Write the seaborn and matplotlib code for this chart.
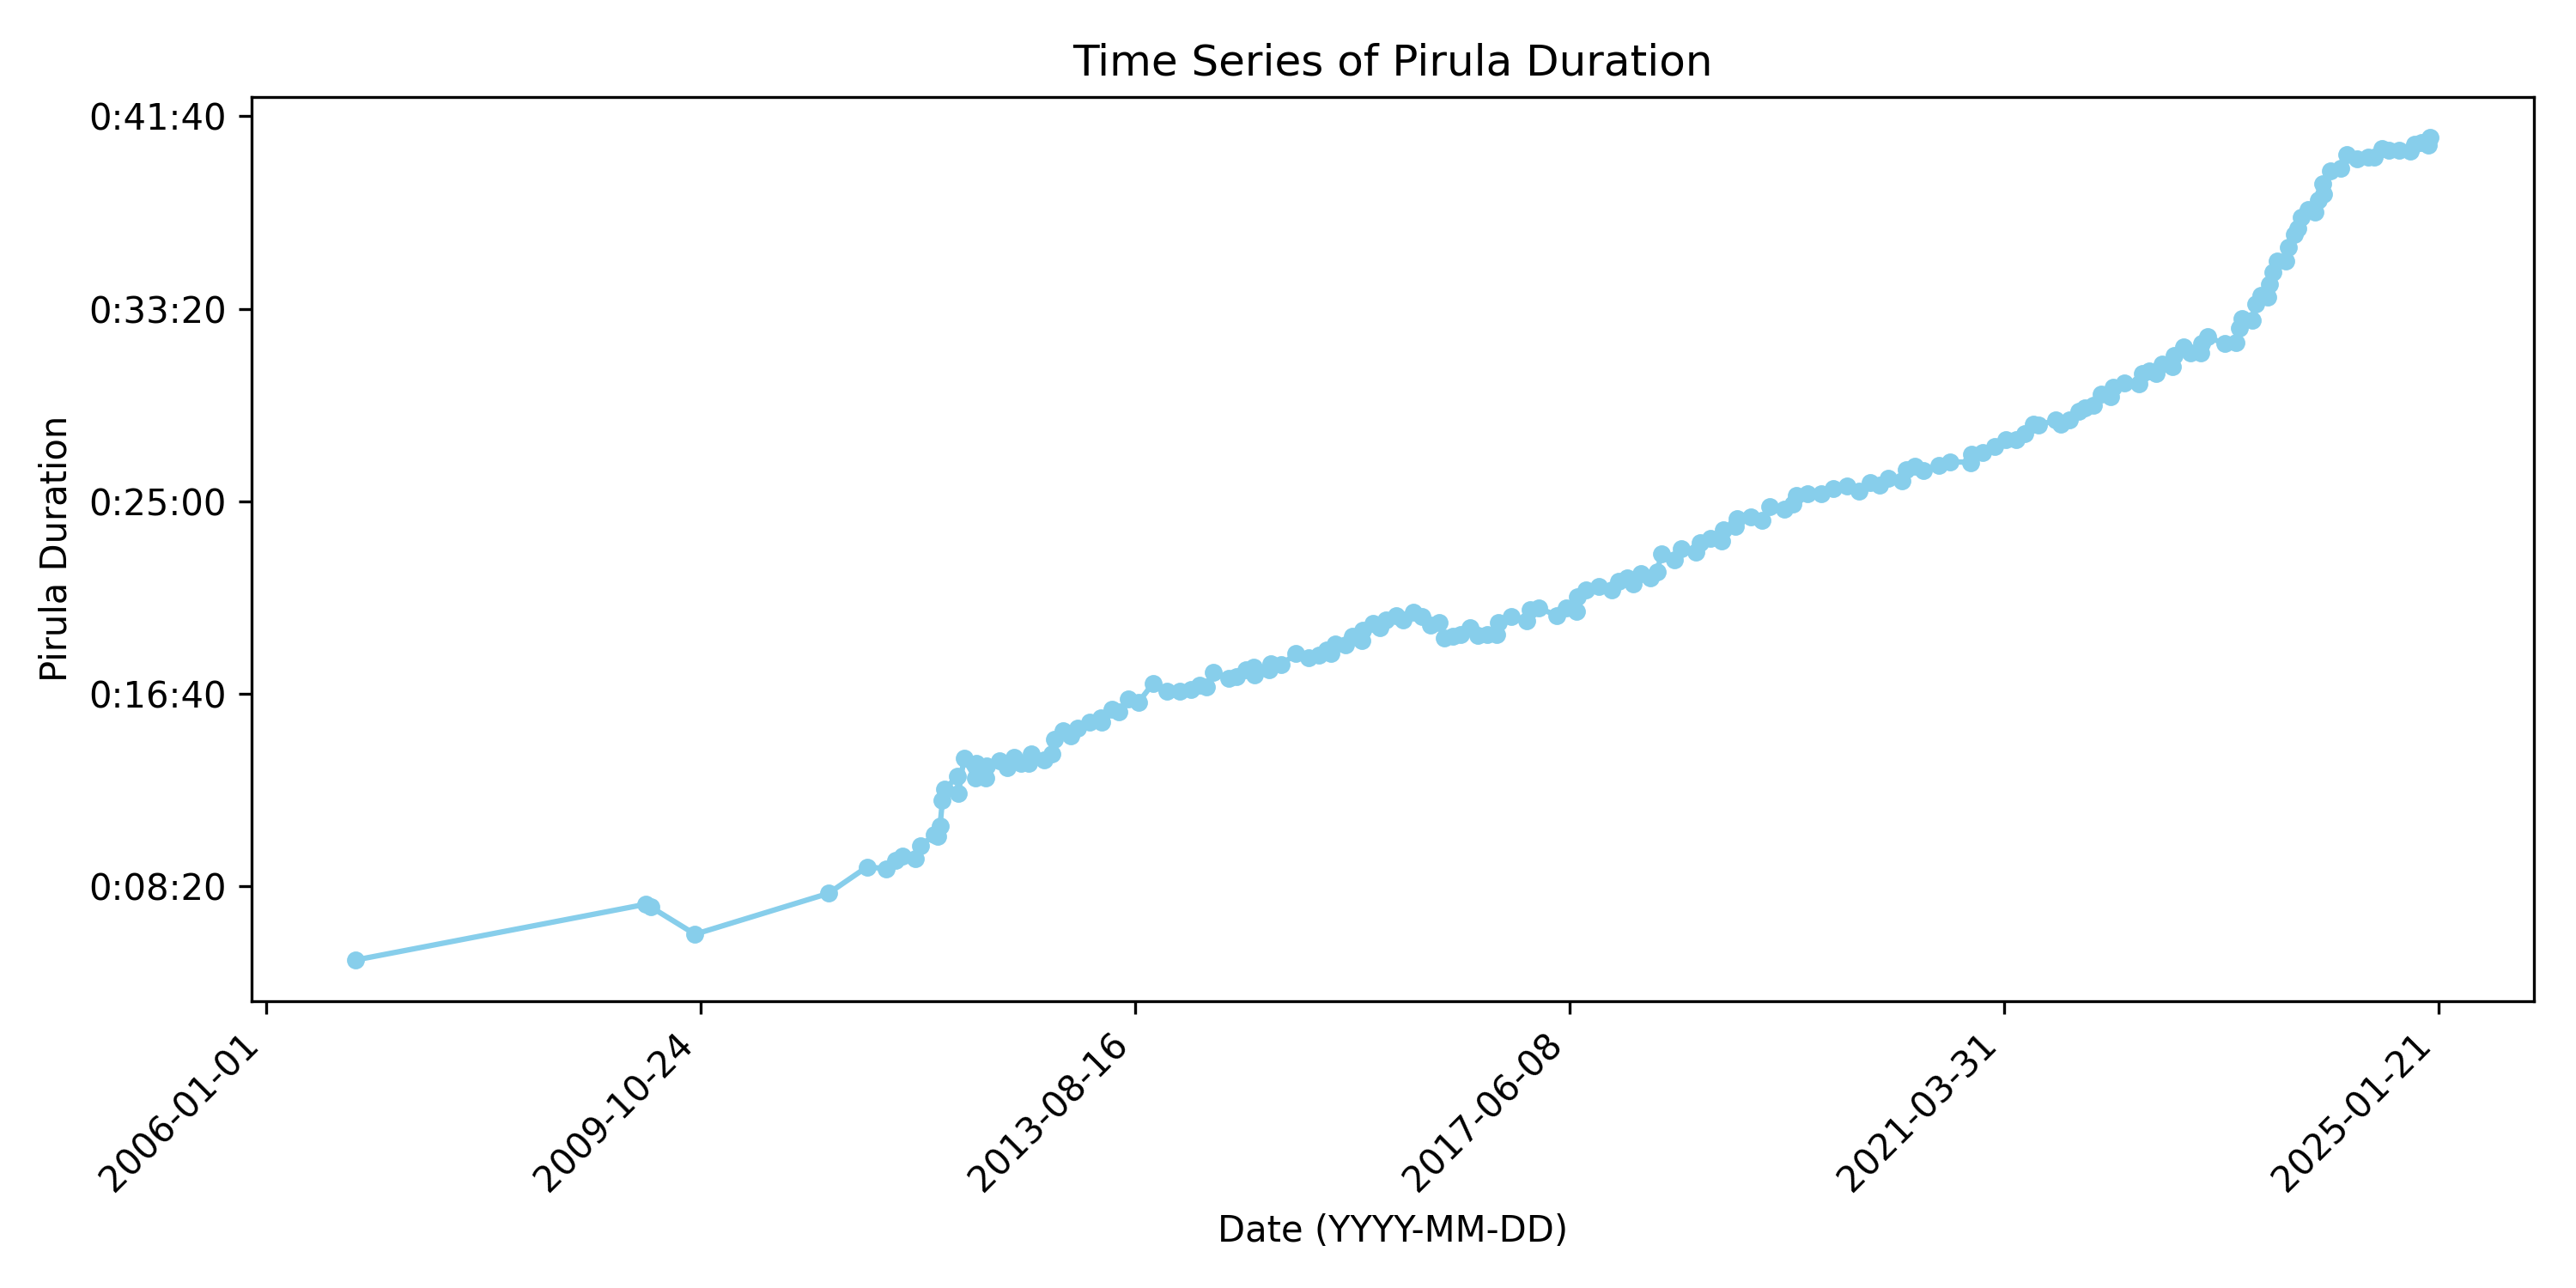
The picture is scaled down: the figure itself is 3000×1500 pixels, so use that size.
import datetime
import numpy as np
import pandas as pd
import matplotlib
matplotlib.use("Agg")
import matplotlib.pyplot as plt
from matplotlib.ticker import FuncFormatter
import seaborn as sns

# Release time as fractional year, duration in seconds
release_year = [
    2006.78, 2009.33, 2009.37, 2009.76, 2010.93, 2011.27, 2011.44, 2011.52, 2011.58, 2011.69,
    2011.74, 2011.86, 2011.89, 2011.91, 2011.93, 2011.95, 2012.06, 2012.07, 2012.12, 2012.22,
    2012.23, 2012.31, 2012.32, 2012.43, 2012.50, 2012.56, 2012.62, 2012.69, 2012.71, 2012.82,
    2012.89, 2012.91, 2012.99, 2013.06, 2013.12, 2013.22, 2013.32, 2013.33, 2013.42, 2013.48,
    2013.56, 2013.65, 2013.78, 2013.90, 2014.01, 2014.11, 2014.19, 2014.25, 2014.31, 2014.44,
    2014.51, 2014.59, 2014.66, 2014.67, 2014.80, 2014.81, 2014.90, 2015.03, 2015.14, 2015.23,
    2015.30, 2015.34, 2015.38, 2015.47, 2015.53, 2015.61, 2015.62, 2015.71, 2015.77, 2015.82,
    2015.91, 2015.97, 2016.06, 2016.14, 2016.21, 2016.29, 2016.33, 2016.41, 2016.48, 2016.56,
    2016.63, 2016.71, 2016.79, 2016.81, 2016.92, 2017.06, 2017.09, 2017.16, 2017.32, 2017.40,
    2017.49, 2017.50, 2017.58, 2017.69, 2017.80, 2017.86, 2017.94, 2017.99, 2018.06, 2018.14,
    2018.20, 2018.24, 2018.35, 2018.41, 2018.54, 2018.58, 2018.67, 2018.77, 2018.78, 2018.89,
    2018.90, 2019.02, 2019.12, 2019.19, 2019.32, 2019.39, 2019.42, 2019.52, 2019.64, 2019.75,
    2019.87, 2019.97, 2020.07, 2020.15, 2020.23, 2020.35, 2020.39, 2020.46, 2020.54, 2020.67,
    2020.77, 2020.95, 2020.96, 2021.06, 2021.16, 2021.26, 2021.35, 2021.43, 2021.50, 2021.55,
    2021.70, 2021.74, 2021.82, 2021.90, 2021.95, 2022.03, 2022.10, 2022.18, 2022.20, 2022.30,
    2022.43, 2022.46, 2022.52, 2022.58, 2022.63, 2022.72, 2022.74, 2022.82, 2022.88, 2022.97,
    2022.98, 2023.03, 2023.18, 2023.28, 2023.31, 2023.33, 2023.42, 2023.45, 2023.50, 2023.56,
    2023.57, 2023.60, 2023.64, 2023.72, 2023.74, 2023.79, 2023.82, 2023.85, 2023.91, 2023.97,
    2024.00, 2024.04, 2024.05, 2024.11, 2024.20, 2024.25, 2024.34, 2024.44, 2024.49, 2024.56,
    2024.62, 2024.71, 2024.81, 2024.85, 2024.91, 2024.97, 2024.98,
]

duration_sec = [
    309, 454, 447, 376, 482, 551, 546, 567, 580, 572,
    606, 634, 630, 657, 724, 752, 786, 741, 832, 781,
    819, 782, 812, 826, 808, 835, 819, 819, 845, 828,
    845, 882, 904, 890, 912, 926, 938, 926, 960, 954,
    986, 978, 1028, 1008, 1008, 1012, 1023, 1019, 1056, 1041,
    1045, 1062, 1070, 1050, 1062, 1079, 1075, 1104, 1093, 1101,
    1115, 1104, 1130, 1127, 1149, 1139, 1166, 1182, 1171, 1191,
    1204, 1191, 1212, 1201, 1179, 1186, 1145, 1149, 1153, 1171,
    1151, 1153, 1153, 1186, 1201, 1190, 1219, 1223, 1204, 1223,
    1215, 1253, 1271, 1279, 1271, 1293, 1301, 1286, 1312, 1301,
    1317, 1364, 1349, 1376, 1368, 1393, 1404, 1397, 1427, 1434,
    1456, 1460, 1450, 1486, 1479, 1493, 1516, 1519, 1519, 1534,
    1539, 1527, 1549, 1542, 1559, 1553, 1582, 1590, 1579, 1593,
    1603, 1601, 1623, 1627, 1642, 1660, 1660, 1675, 1701, 1697,
    1712, 1701, 1712, 1734, 1742, 1749, 1779, 1771, 1797, 1808,
    1805, 1831, 1838, 1831, 1857, 1849, 1879, 1901, 1886, 1886,
    1909, 1927, 1909, 1912, 1949, 1975, 1971, 2012, 2034, 2031,
    2064, 2094, 2123, 2123, 2160, 2194, 2209, 2238, 2257, 2250,
    2283, 2324, 2298, 2357, 2364, 2401, 2390, 2394, 2394, 2416,
    2412, 2412, 2409, 2427, 2431, 2424, 2444,
]

xtick_labels = ["2006-01-01", "2009-10-24", "2013-08-16",
                "2017-06-08", "2021-03-31", "2025-01-21"]

# Build the table
base = pd.Timestamp("2006-01-01")
dates = base + pd.to_timedelta((np.array(release_year) - 2006.0) * 365.25, unit="D")
df = pd.DataFrame({"Date": dates, "Duration": duration_sec})

fig, ax = plt.subplots(figsize=(10, 5), dpi=300)
sns.lineplot(data=df, x="Date", y="Duration", ax=ax, color="skyblue",
             marker="o", markersize=4.5, markeredgecolor="skyblue",
             markeredgewidth=0.5, linewidth=1.5, estimator=None)

ax.yaxis.set_major_formatter(
    FuncFormatter(lambda v, p: str(datetime.timedelta(seconds=int(round(v))))))

ticks = pd.to_datetime(xtick_labels)
ax.set_xticks(ticks)
ax.set_xticklabels(xtick_labels, rotation=45, ha="right")

ax.set_title("Time Series of Pirula Duration")
ax.set_xlabel("Date (YYYY-MM-DD)")
ax.set_ylabel("Pirula Duration")

fig.subplots_adjust(left=0.0977, right=0.9835, top=0.925, bottom=0.2227)
fig.savefig("out.png", dpi=300)
